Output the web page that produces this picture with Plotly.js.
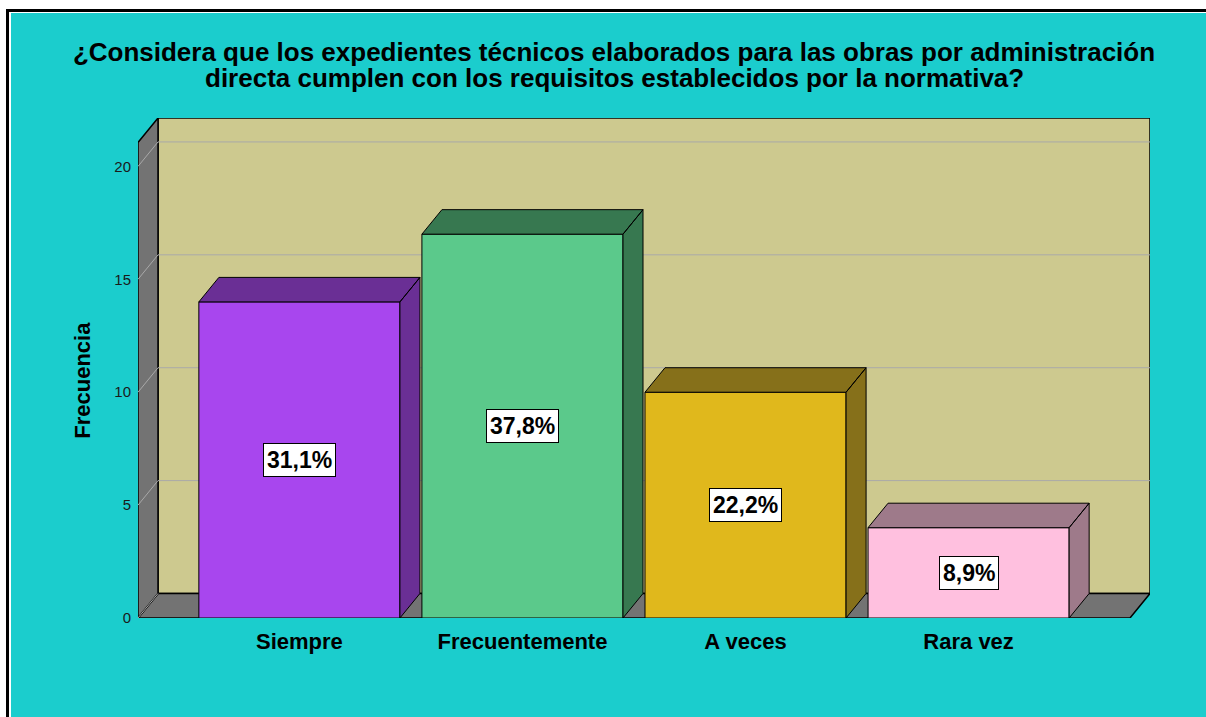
<!DOCTYPE html>
<html>
<head>
<meta charset="utf-8">
<script src="https://cdn.plot.ly/plotly-3.0.1.min.js"></script>
<style>
  html, body { margin: 0; padding: 0; background: #ffffff; width: 1206px; height: 717px; overflow: hidden; }
  #frameTop { position: absolute; left: 6px; top: 9px; width: 1200px; height: 3px; background: #000; }
  #frameLeft { position: absolute; left: 6px; top: 9px; width: 3px; height: 708px; background: #000; }
  #chart { position: absolute; left: 11px; top: 13px; width: 1195px; height: 704px; }
</style>
</head>
<body>
<div id="frameTop"></div>
<div id="frameLeft"></div>
<div id="chart"></div>
<script>
// ---- data ----
const categories = ['Siempre', 'Frecuentemente', 'A veces', 'Rara vez'];
const frecuencias = [14, 17, 10, 4];
const porcentajes = ['31,1%', '37,8%', '22,2%', '8,9%'];
const yTicks = [0, 5, 10, 15, 20];
const frontColors = ['#a846ee', '#5bc98b', '#e0b81c', '#ffc0df'];
const sideColors = ['#6a2f95', '#377850', '#86701a', '#9e7a8a'];
const titleLine1 = '¿Considera que los expedientes técnicos elaborados para las obras por administración';
const titleLine2 = 'directa cumplen con los requisitos establecidos por la normativa?';

// ---- geometry of the 3D frame (axis units) ----
const BAR_W = 0.9014;
const DX = 0.0897;        // depth offset in x units
const DY = 1.085;         // depth offset in y units
const X0 = -0.7235, X1 = 3.7235;
const YTOP = 22.145;      // top of the back wall
const FONT = 'Liberation Sans, Arial, sans-serif';

const WALL = '#737373', BACK = '#cdc98f', GRID = '#a9a9a9';

const shapes = [];
// back wall
shapes.push({type: 'rect', xref: 'x', yref: 'y', layer: 'below',
  x0: X0 + DX, x1: X1 + DX, y0: DY, y1: YTOP,
  fillcolor: BACK, line: {color: '#000', width: 1.5}});
// floor
shapes.push({type: 'path', xref: 'x', yref: 'y', layer: 'below',
  path: `M ${X0},0 L ${X1},0 L ${X1 + DX},${DY} L ${X0 + DX},${DY} Z`,
  fillcolor: WALL, line: {color: '#000', width: 1.5}});
// left wall
shapes.push({type: 'path', xref: 'x', yref: 'y', layer: 'below',
  path: `M ${X0},0 L ${X0 + DX},${DY} L ${X0 + DX},${YTOP} L ${X0},${YTOP - DY} Z`,
  fillcolor: WALL, line: {color: '#000', width: 1.5}});
// gridlines
yTicks.forEach(v => {
  if (v > 0) {
    shapes.push({type: 'line', xref: 'x', yref: 'y', layer: 'below',
      x0: X0 + DX, x1: X1 + DX, y0: v + DY, y1: v + DY,
      line: {color: GRID, width: 1}});
  }
  shapes.push({type: 'line', xref: 'x', yref: 'y', layer: 'below',
    x0: X0, x1: X0 + DX, y0: v, y1: v + DY,
    line: {color: GRID, width: 1}});
});

const xIdx = categories.map((c, i) => i);

const traces = [];
// front faces
traces.push({
  type: 'bar', x: xIdx, y: frecuencias, width: BAR_W,
  marker: {color: frontColors, line: {color: '#000', width: 1}},
  hoverinfo: 'skip', showlegend: false
});
// top + side faces
frecuencias.forEach((v, i) => {
  const L = i - BAR_W / 2, R = i + BAR_W / 2;
  traces.push({
    type: 'scatter', mode: 'lines', fill: 'toself',
    x: [L, R, R + DX, L + DX, L, null, R, R + DX, R + DX, R, R],
    y: [v, v, v + DY, v + DY, v, null, 0, DY, v + DY, v, 0],
    fillcolor: sideColors[i], line: {color: '#000', width: 1},
    hoverinfo: 'skip', showlegend: false, connectgaps: false
  });
});

const annotations = frecuencias.map((v, i) => ({
  x: i, y: v / 2, xref: 'x', yref: 'y', text: porcentajes[i], showarrow: false,
  bgcolor: '#ffffff', bordercolor: '#000', borderwidth: 1, borderpad: 3,
  font: {family: FONT, size: 23, color: '#000', weight: 'bold'}
}));
annotations.push({
  x: -0.0543, y: 0.4746, xref: 'paper', yref: 'paper', text: 'Frecuencia',
  textangle: -90, showarrow: false, xanchor: 'center', yanchor: 'middle',
  font: {family: FONT, size: 22, color: '#000', weight: 'bold'}
});
// second title line
annotations.push({
  x: 0.4704, y: 1.08, xref: 'paper', yref: 'paper', text: titleLine2,
  showarrow: false, xanchor: 'center', yanchor: 'middle',
  font: {family: FONT, size: 26, color: '#000', weight: 'bold'}
});

const layout = {
  width: 1195, height: 704,
  paper_bgcolor: '#1bcdcd', plot_bgcolor: 'rgba(0,0,0,0)',
  margin: {l: 127, r: 56, t: 105, b: 99},
  title: {text: titleLine1, x: 0.5046, xref: 'container', xanchor: 'center',
    y: 1 - 39 / 704, yref: 'container', yanchor: 'middle',
    font: {family: FONT, size: 26, color: '#000', weight: 'bold'}},
  xaxis: {range: [X0, X1 + DX], tickvals: xIdx, ticktext: categories,
    showgrid: false, zeroline: false, showline: false, ticks: '',
    ticklabelstandoff: 8,
    tickfont: {family: FONT, size: 22, color: '#000', weight: 'bold'}},
  yaxis: {range: [0, YTOP], tickvals: yTicks, showgrid: false, zeroline: false,
    showline: false, ticks: '', ticklabelstandoff: 6,
    tickfont: {family: FONT, size: 15, color: '#1a1a1a'}},
  shapes: shapes,
  annotations: annotations,
  bargap: 0
};

Plotly.newPlot('chart', traces, layout, {displayModeBar: false, staticPlot: true});
</script>
</body>
</html>
